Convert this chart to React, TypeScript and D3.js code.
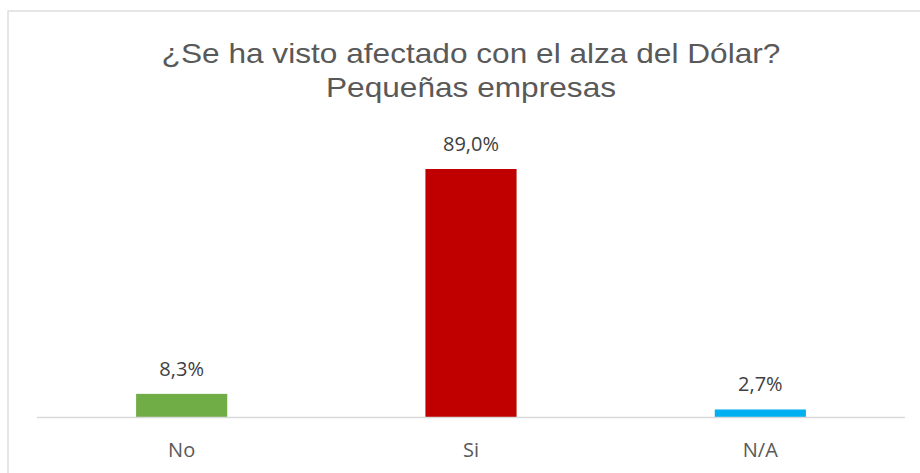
import * as d3 from "d3";
import React from "react";

// data
const categories = ["No", "Si", "N/A"];
const values = [8.3, 89.0, 2.7];
const barColors = ["#70ad47", "#c00000", "#00b0f0"];
const titleLines = ["¿Se ha visto afectado con el alza del Dólar?", "Pequeñas empresas"];

const width = 920;
const height = 473;

// plot area (page coords)
const plot = { left: 37, right: 905, top: 169, bottom: 417 };

const fmt = (v: number) => v.toFixed(1).replace(".", ",") + "%";

export default function App() {
  const x = d3
    .scaleBand<string>()
    .domain(categories)
    .range([plot.left, plot.right])
    .paddingInner(0.685)
    .paddingOuter(0.3425);

  const y = d3
    .scaleLinear()
    .domain([0, 89.0])
    .range([plot.bottom, plot.top]);

  return (
    <svg
      width={width}
      height={height}
      style={{ position: "absolute", left: 0, top: 0, background: "#fff" }}
    >
      {/* chart frame, runs off the right / bottom edge */}
      <rect x={8} y={11} width={940} height={480} fill="#fff" stroke="#d9d9d9" strokeWidth={1.3} />

      {/* title, slightly stretched like the export */}
      <g transform={`translate(471,0) scale(1.13,1)`} fill="#595959" fontFamily="'Liberation Sans', Arial, sans-serif" fontSize={28}>
        {titleLines.map((t, i) => (
          <text key={t} x={0} y={62.7 + i * 34} textAnchor="middle">
            {t}
          </text>
        ))}
      </g>

      {/* bars */}
      <g>
        {categories.map((c, i) => (
          <rect
            key={c}
            x={x(c)}
            y={y(values[i])}
            width={x.bandwidth()}
            height={y(0) - y(values[i])}
            fill={barColors[i]}
          />
        ))}
      </g>

      {/* axis line */}
      <line x1={plot.left} x2={plot.right} y1={y(0) + 0.5} y2={y(0) + 0.5} stroke="#d9d9d9" strokeWidth={1.5} />

      {/* value labels */}
      <g fontFamily="'Open Sans', sans-serif" fontSize={20} fill="#404040" textAnchor="middle">
        {categories.map((c, i) => (
          <text key={c} x={x(c)! + x.bandwidth() / 2} y={y(values[i]) - 18}>
            {fmt(values[i])}
          </text>
        ))}
      </g>

      {/* category labels */}
      <g fontFamily="'Open Sans', sans-serif" fontSize={20} fill="#595959" textAnchor="middle">
        {categories.map((c) => (
          <text key={c} x={x(c)! + x.bandwidth() / 2} y={456.5}>
            {c}
          </text>
        ))}
      </g>
    </svg>
  );
}
